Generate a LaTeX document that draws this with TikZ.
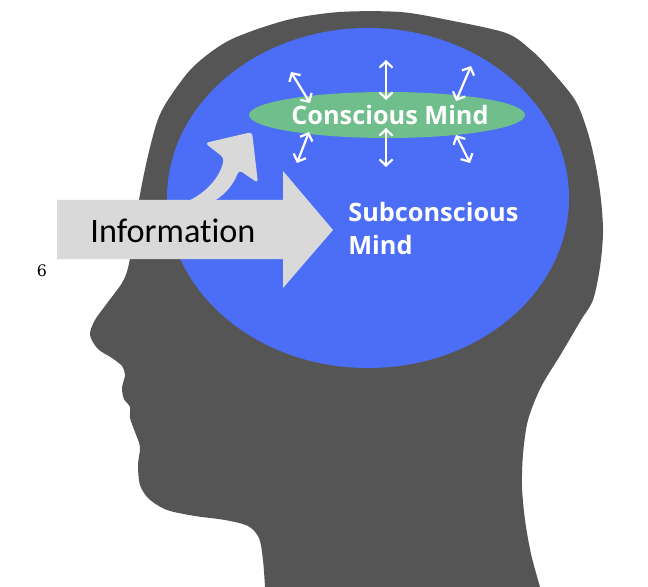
\documentclass[tikz,border=0pt]{standalone}
\usepackage{fontspec}
\setmainfont{Open Sans}
\newfontfamily\infofont[Ligatures=NoCommon]{Carlito}
\newfontfamily\markfont{DejaVu Serif}
\usepackage{tikz}
\usetikzlibrary{positioning,arrows.meta}
\definecolor{headgray}{HTML}{555555}
\definecolor{mindblue}{HTML}{4C6EF6}
\definecolor{mindgreen}{HTML}{6FBE8C}
\definecolor{infogray}{HTML}{D9D9D9}

\begin{document}
\begin{tikzpicture}[x=0.02cm, y=-0.02cm,
  mindtext/.style={text=white, font=\bfseries\fontsize{14.4}{17}\selectfont, inner sep=0pt},
  mindarrow/.style={white, line width=1.25pt, {Straight Barb[length=3.5pt,width=7.5pt]}-{Straight Barb[length=3.5pt,width=7.5pt]}}]
\fill[white] (0,0) rectangle (648,587);
\useasboundingbox (0,0) rectangle (648,587);

% head
\fill[headgray] plot[smooth, tension=0.5] coordinates {(265,587) (263,560) (259,538) (248,526) (225,520) (195,516) (167,510) (149,499) (140,485) (138,465) (140,447) (135,432) (130,418) (130,407) (124,399) (122,388) (125,375) (122,366) (112,358) (98,349) (90,335) (95,320) (108,302) (122,283) (128,268) (133,240) (139,200) (147,160) (157,122) (168,100) (193,67) (230,40) (287,20) (340,12) (400,12) (448,20) (506,33) (531,50) (548,67) (575,100) (588,133) (596,167) (601,200) (603,233) (600,267) (593,300) (581,320) (561,354) (541,387) (528,420) (523,454) (522,487) (525,520) (531,554) (540,587)} -- cycle;

% minds
\fill[mindblue] (368,198) ellipse [x radius=201, y radius=170];
\fill[mindgreen] (387,115) ellipse [x radius=138, y radius=23];

% information arrows
\fill[infogray] (57,200) -- (283,200) -- (283,171) -- (333,230) -- (283,288) -- (283,259) -- (57,259) -- cycle;
\fill[infogray, rounded corners=2pt] (186,202) .. controls (205,193) and (220,178) .. (224,158) -- (205,143) -- (252,132) -- (258,183) -- (239,170) .. controls (233,186) and (223,196) .. (212,202) -- cycle;

\node[inner sep=0pt, anchor=base, font=\infofont\fontsize{19.5}{22}\selectfont] (info) at (173,242) {Information};
\node[mindtext, anchor=base] (conscious) at (390,125) {Conscious Mind};
\node[mindtext, anchor=base west] (subconscious) at (348,222) {Subconscious};
\node[mindtext, anchor=base west] (mind) at (348,255) {Mind};
\node[inner sep=0pt, anchor=base, font=\markfont\fontsize{9}{10}\selectfont] (mark) at (42,276) {6};

% exchange arrows
\coordinate (ul-out) at (291,72);  \coordinate (ul-in) at (310,103);
\coordinate (um-out) at (386,60);  \coordinate (um-in) at (386,100);
\coordinate (ur-out) at (471,66);  \coordinate (ur-in) at (456,101);
\coordinate (ll-in) at (309,132);  \coordinate (ll-out) at (297,163);
\coordinate (lm-in) at (386,128);  \coordinate (lm-out) at (386,167);
\coordinate (lr-in) at (456,135);  \coordinate (lr-out) at (470,163);

\draw[mindarrow] (ul-out) -- (ul-in);
\draw[mindarrow] (um-out) -- (um-in);
\draw[mindarrow] (ur-out) -- (ur-in);
\draw[mindarrow] (ll-in) -- (ll-out);
\draw[mindarrow] (lm-in) -- (lm-out);
\draw[mindarrow] (lr-in) -- (lr-out);
\end{tikzpicture}
\end{document}
